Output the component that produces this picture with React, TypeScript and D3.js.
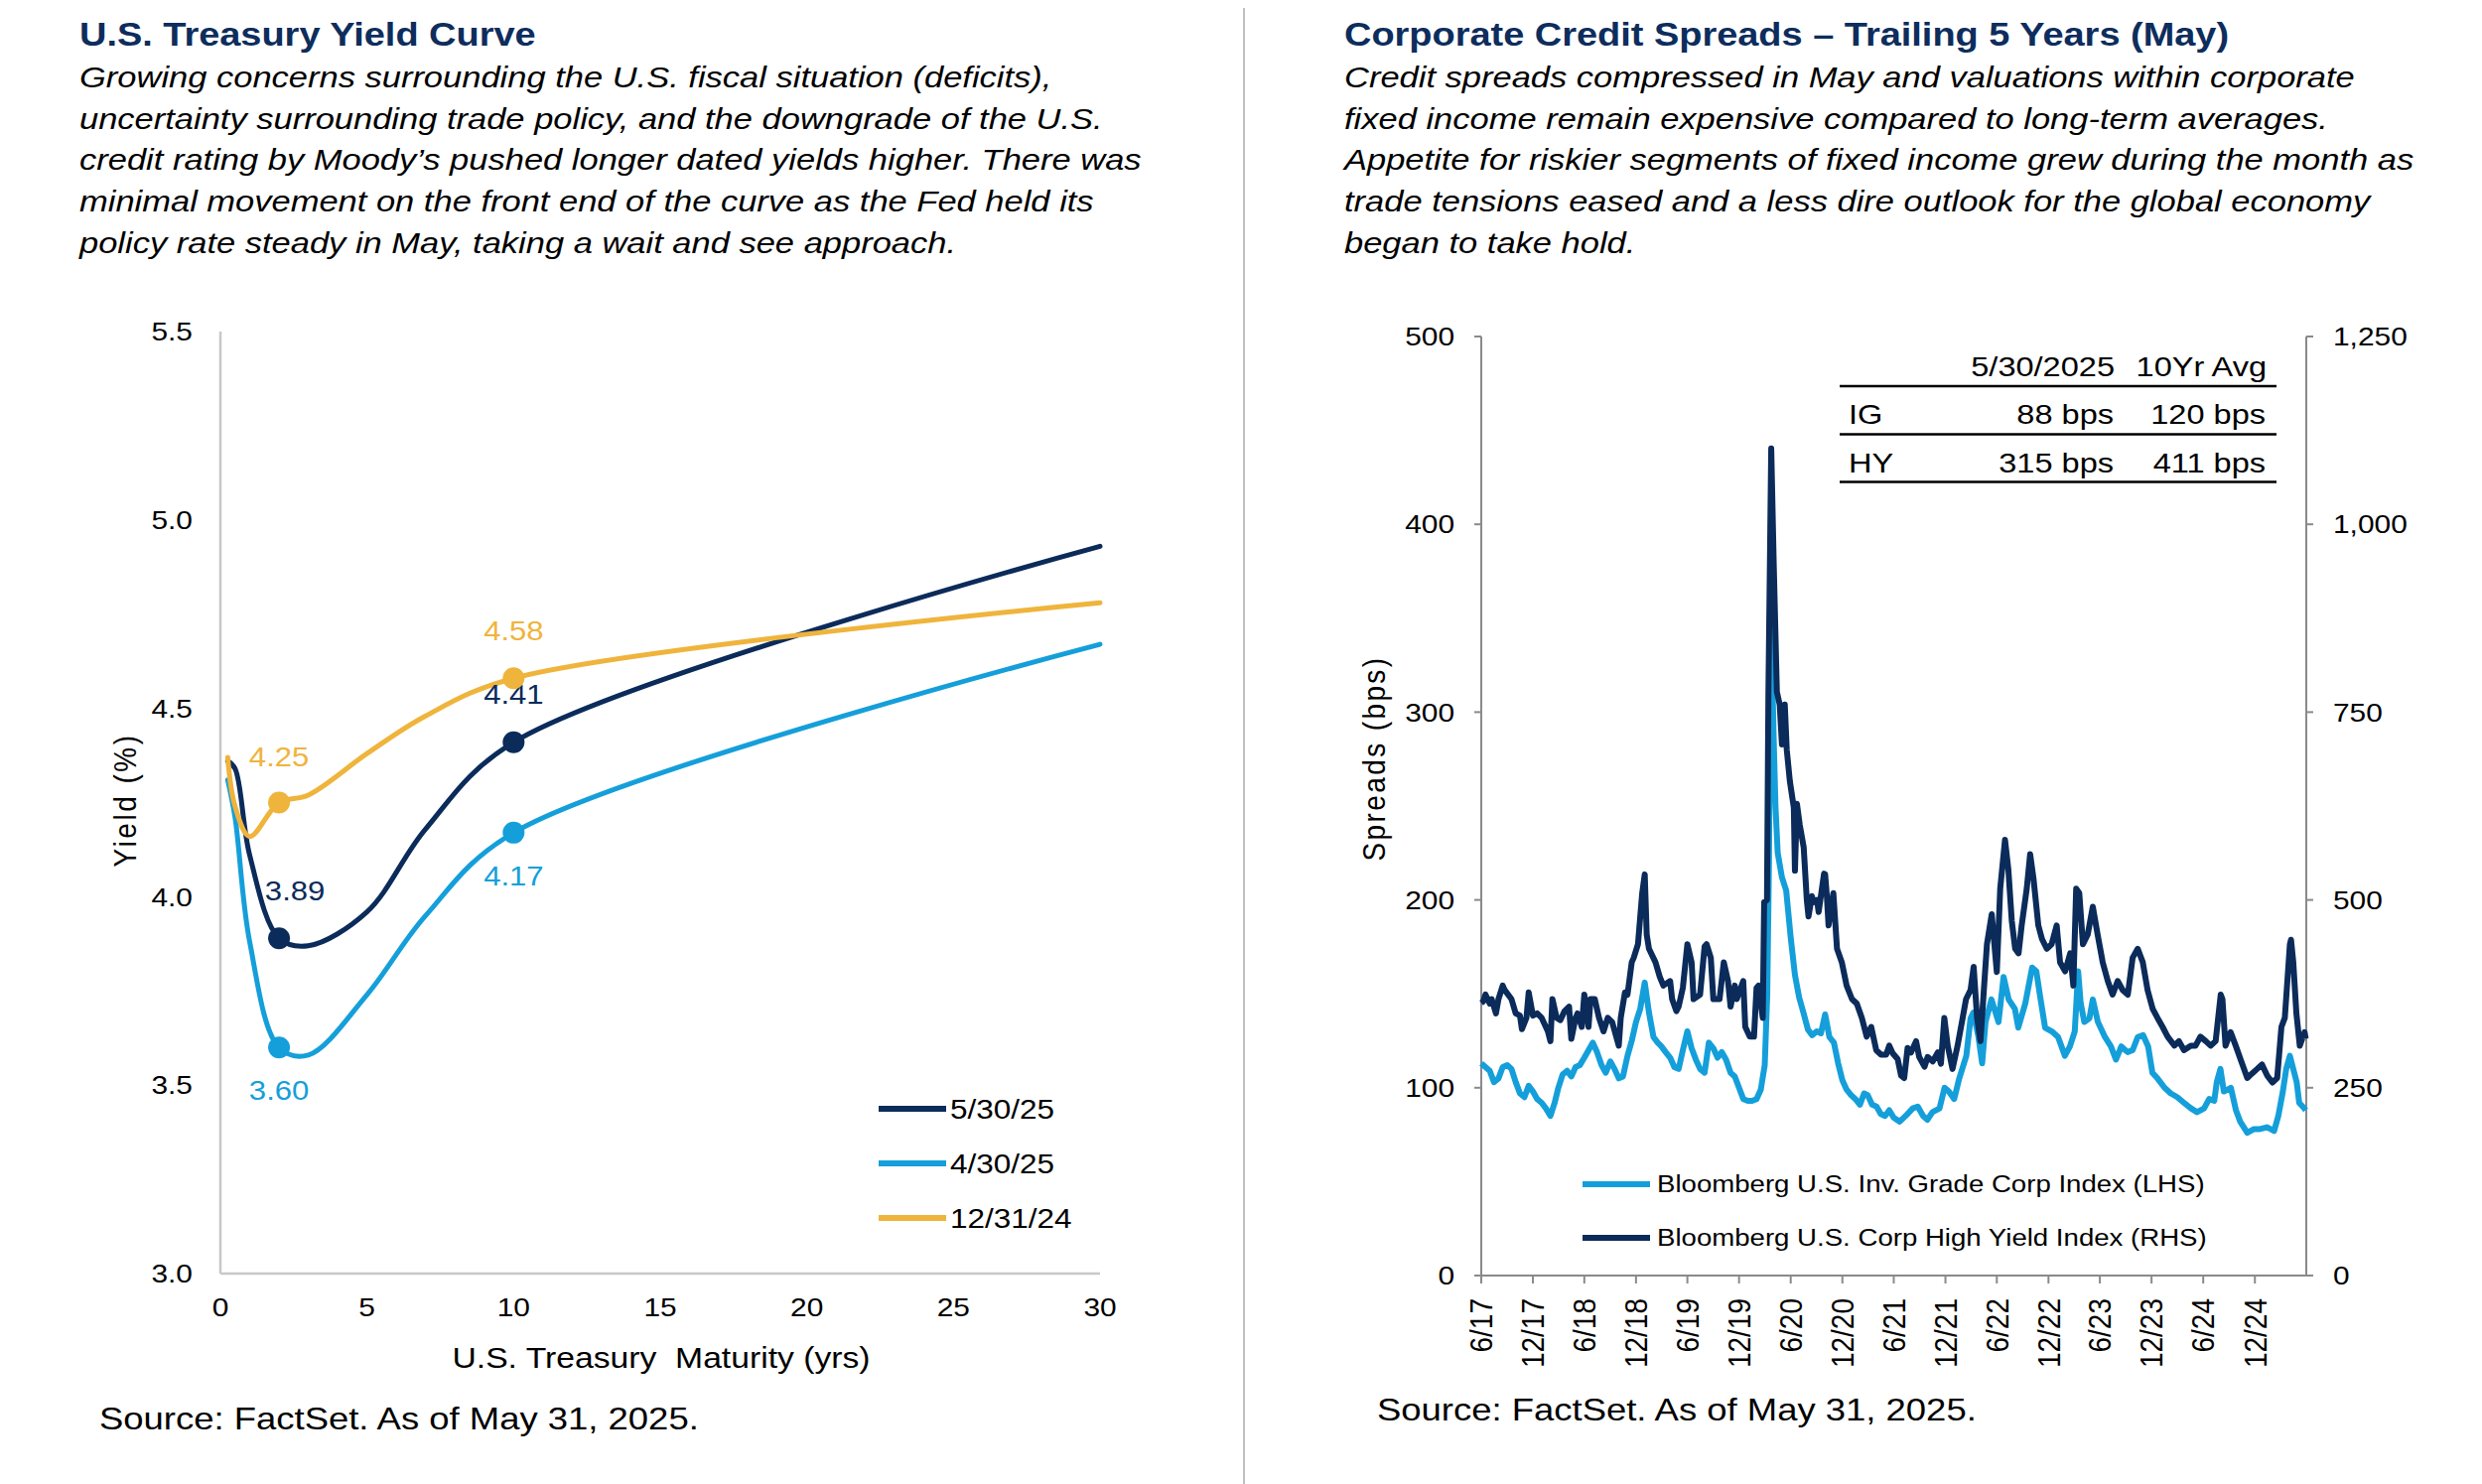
import React from 'react';
import * as d3 from 'd3';

// ---------- Left chart: U.S. Treasury yield curve ----------
const maturities = [0.25, 0.5, 1, 2, 3, 5, 7, 10, 30];
const yieldsMay2025 = [4.36, 4.34, 4.11, 3.89, 3.87, 3.96, 4.18, 4.41, 4.93];
const yieldsApr2025 = [4.31, 4.21, 3.88, 3.6, 3.58, 3.74, 3.95, 4.17, 4.67];
const yieldsDec2024 = [4.37, 4.24, 4.16, 4.25, 4.27, 4.38, 4.48, 4.58, 4.78];
const curveNames = ['5/30/25', '4/30/25', '12/31/24'];
const labeledMaturities = [2, 10];
const yieldTicks = [3.0, 3.5, 4.0, 4.5, 5.0, 5.5];
const maturityTicks = [0, 5, 10, 15, 20, 25, 30];

// ---------- Right chart: corporate credit spreads ----------
const igSpreads: [string, number][] = [
  ['2017-06-01', 113], ['2017-06-16', 111], ['2017-07-01', 109], ['2017-07-16', 103], ['2017-08-01', 105], ['2017-08-16', 111],
  ['2017-09-01', 112], ['2017-09-16', 110], ['2017-10-01', 103], ['2017-10-16', 97], ['2017-11-01', 95], ['2017-11-16', 101],
  ['2017-12-01', 98], ['2017-12-16', 94], ['2018-01-01', 92], ['2018-01-16', 89], ['2018-02-01', 85], ['2018-02-16', 92],
  ['2018-03-01', 100], ['2018-03-16', 107], ['2018-04-01', 109], ['2018-04-16', 106], ['2018-05-01', 111], ['2018-05-16', 112],
  ['2018-06-01', 116], ['2018-06-16', 120], ['2018-07-01', 124], ['2018-07-16', 119], ['2018-08-01', 112], ['2018-08-16', 108],
  ['2018-09-01', 114], ['2018-09-16', 110], ['2018-10-01', 105], ['2018-10-16', 106], ['2018-11-01', 117], ['2018-11-16', 125],
  ['2018-12-01', 135], ['2018-12-16', 142], ['2019-01-01', 156], ['2019-01-16', 140], ['2019-02-01', 127], ['2019-02-16', 124],
  ['2019-03-01', 122], ['2019-03-16', 119], ['2019-04-01', 116], ['2019-04-16', 111], ['2019-05-01', 110], ['2019-05-16', 120],
  ['2019-06-01', 130], ['2019-06-16', 121], ['2019-07-01', 115], ['2019-07-16', 110], ['2019-08-01', 108], ['2019-08-16', 124],
  ['2019-09-01', 121], ['2019-09-16', 116], ['2019-10-01', 119], ['2019-10-16', 115], ['2019-11-01', 108], ['2019-11-16', 106],
  ['2019-12-01', 100], ['2019-12-16', 94], ['2020-01-01', 93], ['2020-01-16', 93], ['2020-02-01', 94], ['2020-02-16', 99],
  ['2020-03-01', 112], ['2020-03-10', 150], ['2020-03-16', 220], ['2020-03-23', 373], ['2020-03-28', 320], ['2020-04-01', 290],
  ['2020-04-08', 250], ['2020-04-16', 225], ['2020-05-01', 212], ['2020-05-16', 205], ['2020-06-01', 180], ['2020-06-16', 160],
  ['2020-07-01', 148], ['2020-07-16', 140], ['2020-08-01', 131], ['2020-08-16', 128], ['2020-09-01', 130], ['2020-09-16', 129],
  ['2020-10-01', 139], ['2020-10-16', 127], ['2020-11-01', 124], ['2020-11-16', 113], ['2020-12-01', 104], ['2020-12-16', 99],
  ['2021-01-01', 96], ['2021-01-16', 94], ['2021-02-01', 91], ['2021-02-16', 97], ['2021-03-01', 96], ['2021-03-16', 91],
  ['2021-04-01', 90], ['2021-04-16', 86], ['2021-05-01', 85], ['2021-05-16', 88], ['2021-06-01', 84], ['2021-06-22', 82],
  ['2021-07-13', 85], ['2021-08-07', 89], ['2021-08-25', 90], ['2021-09-13', 85], ['2021-09-28', 83], ['2021-10-16', 87],
  ['2021-11-10', 89], ['2021-11-28', 100], ['2021-12-13', 98], ['2022-01-01', 94], ['2022-01-19', 105], ['2022-02-13', 117],
  ['2022-02-28', 137], ['2022-03-10', 140], ['2022-03-28', 127], ['2022-04-10', 113], ['2022-04-22', 135], ['2022-05-13', 147],
  ['2022-06-07', 135], ['2022-06-25', 159], ['2022-07-13', 147], ['2022-08-04', 142], ['2022-08-16', 132], ['2022-09-10', 145],
  ['2022-10-04', 164], ['2022-10-19', 162], ['2022-11-01', 149], ['2022-11-19', 132], ['2022-12-13', 130], ['2023-01-04', 127],
  ['2023-01-28', 117], ['2023-02-15', 122], ['2023-03-04', 130], ['2023-03-16', 162], ['2023-03-25', 145], ['2023-04-07', 135],
  ['2023-04-25', 137], ['2023-05-07', 147], ['2023-05-25', 135], ['2023-06-19', 127], ['2023-07-10', 122], ['2023-07-28', 115],
  ['2023-08-16', 122], ['2023-09-07', 119], ['2023-09-25', 120], ['2023-10-13', 127], ['2023-11-01', 128], ['2023-11-19', 122],
  ['2023-12-04', 108], ['2023-12-22', 105], ['2024-01-16', 100], ['2024-02-07', 97], ['2024-03-01', 95], ['2024-03-25', 92],
  ['2024-04-19', 89], ['2024-05-10', 87], ['2024-06-04', 89], ['2024-06-22', 94], ['2024-07-10', 93], ['2024-07-19', 103],
  ['2024-08-01', 110], ['2024-08-13', 98], ['2024-09-07', 100], ['2024-09-25', 88], ['2024-10-10', 82], ['2024-11-04', 76],
  ['2024-11-28', 78], ['2024-12-19', 78], ['2025-01-13', 79], ['2025-02-07', 77], ['2025-02-22', 85], ['2025-03-10', 98],
  ['2025-03-22', 110], ['2025-04-04', 117], ['2025-04-16', 110], ['2025-04-28', 103], ['2025-05-07', 92], ['2025-05-25', 89],
  ['2025-05-30', 88],
];

const hySpreads: [string, number][] = [
  ['2017-06-01', 363], ['2017-06-08', 365], ['2017-06-16', 374], ['2017-07-01', 362], ['2017-07-08', 368], ['2017-07-23', 349],
  ['2017-08-01', 368], ['2017-08-16', 386], ['2017-08-23', 380], ['2017-09-16', 368], ['2017-10-01', 349], ['2017-10-16', 346],
  ['2017-10-23', 328], ['2017-11-08', 343], ['2017-11-16', 377], ['2017-12-01', 346], ['2017-12-16', 349], ['2018-01-01', 343],
  ['2018-01-23', 325], ['2018-02-01', 312], ['2018-02-08', 368], ['2018-02-23', 343], ['2018-03-08', 340], ['2018-03-23', 352],
  ['2018-04-08', 358], ['2018-04-16', 315], ['2018-05-01', 343], ['2018-05-08', 349], ['2018-05-23', 331], ['2018-06-01', 374],
  ['2018-06-16', 331], ['2018-06-23', 368], ['2018-07-08', 368], ['2018-07-23', 343], ['2018-08-08', 325], ['2018-08-23', 343],
  ['2018-09-08', 337], ['2018-10-01', 306], ['2018-10-08', 343], ['2018-10-23', 377], ['2018-11-01', 374], ['2018-11-16', 417],
  ['2018-11-23', 423], ['2018-12-08', 441], ['2018-12-23', 509], ['2019-01-01', 534], ['2019-01-08', 454], ['2019-01-16', 435],
  ['2019-02-08', 417], ['2019-02-23', 398], ['2019-03-08', 386], ['2019-04-01', 392], ['2019-04-08', 368], ['2019-04-23', 352],
  ['2019-05-01', 358], ['2019-05-16', 383], ['2019-06-01', 441], ['2019-06-16', 417], ['2019-06-23', 368], ['2019-07-16', 374],
  ['2019-08-01', 438], ['2019-08-08', 441], ['2019-08-23', 423], ['2019-09-01', 368], ['2019-09-23', 368], ['2019-10-08', 417],
  ['2019-10-23', 392], ['2019-11-01', 358], ['2019-11-16', 386], ['2019-11-23', 368], ['2019-12-16', 392], ['2019-12-23', 331],
  ['2020-01-08', 318], ['2020-01-23', 318], ['2020-02-01', 383], ['2020-02-08', 386], ['2020-02-23', 343], ['2020-02-28', 497],
  ['2020-03-09', 500], ['2020-03-14', 773], ['2020-03-24', 1101], ['2020-04-02', 945], ['2020-04-13', 777], ['2020-04-23', 760],
  ['2020-05-01', 707], ['2020-05-11', 760], ['2020-05-18', 700], ['2020-05-29', 658], ['2020-06-12', 623], ['2020-06-16', 539],
  ['2020-06-23', 628], ['2020-07-03', 600], ['2020-07-17', 570], ['2020-07-28', 500], ['2020-08-03', 478], ['2020-08-15', 505],
  ['2020-08-21', 497], ['2020-09-02', 500], ['2020-09-08', 484], ['2020-09-27', 535], ['2020-10-01', 534], ['2020-10-07', 505],
  ['2020-10-13', 466], ['2020-10-30', 509], ['2020-11-12', 435], ['2020-11-29', 417], ['2020-12-16', 386], ['2021-01-04', 368],
  ['2021-01-21', 362], ['2021-02-08', 343], ['2021-02-25', 318], ['2021-03-13', 331], ['2021-03-31', 300], ['2021-04-17', 294],
  ['2021-05-05', 294], ['2021-05-16', 306], ['2021-05-28', 296], ['2021-06-15', 288], ['2021-06-27', 266], ['2021-07-08', 263],
  ['2021-07-20', 303], ['2021-08-01', 297], ['2021-08-19', 312], ['2021-08-30', 291], ['2021-09-18', 278], ['2021-09-29', 291],
  ['2021-10-17', 285], ['2021-11-04', 297], ['2021-11-15', 282], ['2021-11-27', 343], ['2021-12-09', 306], ['2021-12-26', 275],
  ['2022-01-13', 306], ['2022-01-31', 343], ['2022-02-12', 368], ['2022-02-28', 380], ['2022-03-11', 411], ['2022-03-23', 343],
  ['2022-04-04', 312], ['2022-04-15', 374], ['2022-04-27', 441], ['2022-05-14', 481], ['2022-06-01', 404], ['2022-06-13', 515],
  ['2022-06-30', 580], ['2022-07-12', 540], ['2022-07-24', 472], ['2022-08-05', 435], ['2022-08-17', 429], ['2022-08-28', 466],
  ['2022-09-15', 515], ['2022-09-27', 561], ['2022-10-09', 528], ['2022-10-26', 466], ['2022-11-08', 448], ['2022-11-25', 435],
  ['2022-12-12', 441], ['2022-12-30', 466], ['2023-01-11', 417], ['2023-01-29', 405], ['2023-02-16', 429], ['2023-02-27', 386],
  ['2023-03-09', 515], ['2023-03-20', 509], ['2023-04-02', 441], ['2023-04-19', 454], ['2023-05-07', 491], ['2023-05-24', 454],
  ['2023-06-11', 417], ['2023-06-29', 392], ['2023-07-16', 374], ['2023-08-03', 392], ['2023-08-21', 380], ['2023-09-08', 374],
  ['2023-09-25', 423], ['2023-10-13', 435], ['2023-10-31', 417], ['2023-11-17', 380], ['2023-12-05', 355], ['2023-12-22', 343],
  ['2024-01-09', 331], ['2024-01-27', 318], ['2024-02-20', 306], ['2024-03-07', 312], ['2024-03-25', 300], ['2024-04-18', 306],
  ['2024-05-05', 306], ['2024-05-22', 318], ['2024-06-10', 312], ['2024-06-27', 306], ['2024-07-15', 312], ['2024-08-02', 374],
  ['2024-08-08', 368], ['2024-08-19', 306], ['2024-09-06', 324], ['2024-09-24', 306], ['2024-10-11', 288], ['2024-11-04', 263],
  ['2024-11-21', 269], ['2024-12-09', 275], ['2024-12-26', 281], ['2025-01-14', 266], ['2025-02-01', 257], ['2025-02-18', 263],
  ['2025-03-05', 331], ['2025-03-17', 343], ['2025-04-04', 441], ['2025-04-08', 447], ['2025-04-16', 417], ['2025-04-27', 349],
  ['2025-05-09', 306], ['2025-05-26', 324], ['2025-05-30', 315],
];

const spreadTicksLeft = [0, 100, 200, 300, 400, 500];
const spreadTicksRight = [0, 250, 500, 750, 1000, 1250];
const dateTicks = [
  '2017-06-01', '2017-12-01', '2018-06-01', '2018-12-01', '2019-06-01', '2019-12-01', '2020-06-01', '2020-12-01',
  '2021-06-01', '2021-12-01', '2022-06-01', '2022-12-01', '2023-06-01', '2023-12-01', '2024-06-01', '2024-12-01',
];
const dateDomain = ['2017-06-01', '2025-06-01'];
const tableHeader = ['', '5/30/2025', '10Yr Avg'];
const tableRows = [
  ['IG', '88 bps', '120 bps'],
  ['HY', '315 bps', '411 bps'],
];
const spreadNames = ['Bloomberg U.S. Inv. Grade Corp Index (LHS)', 'Bloomberg U.S. Corp High Yield Index (RHS)'];

// ---------- Texts ----------
const leftTitle = 'U.S. Treasury Yield Curve';
const leftText = [
  'Growing concerns surrounding the U.S. fiscal situation (deficits),',
  'uncertainty surrounding trade policy, and the downgrade of the U.S.',
  'credit rating by Moody\u2019s pushed longer dated yields higher. There was',
  'minimal movement on the front end of the curve as the Fed held its',
  'policy rate steady in May, taking a wait and see approach.',
];
const rightTitle = 'Corporate Credit Spreads \u2013 Trailing 5 Years (May)';
const rightText = [
  'Credit spreads compressed in May and valuations within corporate',
  'fixed income remain expensive compared to long-term averages.',
  'Appetite for riskier segments of fixed income grew during the month as',
  'trade tensions eased and a less dire outlook for the global economy',
  'began to take hold.',
];
const sourceText = 'Source: FactSet. As of May 31, 2025.';

// ---------- Styling ----------
const SX = 1.15;
const FONT = '"Liberation Sans", Arial, Helvetica, sans-serif';
const NAVY = '#0b2b5a';
const LBLUE = '#159fda';
const GOLD = '#efb43c';
const TITLE_C = '#0d2d5d';

type TxtProps = {
  x: number; y: number; size: number; anchor?: string; fill?: string; weight?: string;
  italic?: boolean; rotate?: number; ls?: number; dy?: string; pre?: boolean; children: React.ReactNode;
};
function Txt({ x, y, size, anchor = 'start', fill = '#000', weight = 'normal', italic = false, rotate = 0, ls = 0, dy, pre, children }: TxtProps) {
  return (
    <g transform={`translate(${x},${y}) scale(${SX},1)${rotate ? ` rotate(${rotate})` : ''}`}>
      <text
        fontFamily={FONT}
        fontSize={size}
        textAnchor={anchor as any}
        fill={fill}
        fontWeight={weight}
        fontStyle={italic ? 'italic' : 'normal'}
        letterSpacing={ls}
        dy={dy}
        style={pre ? { whiteSpace: 'pre' } : undefined}
      >
        {children}
      </text>
    </g>
  );
}

function YieldCurveChart() {
  const x = d3.scaleLinear().domain([0, 30]).range([222, 1108]);
  const y = d3.scaleLinear().domain([3, 5.5]).range([1283, 334]);
  const line = d3
    .line<[number, number]>()
    .x((d) => x(d[0]))
    .y((d) => y(d[1]))
    .curve(d3.curveCatmullRom.alpha(0.5));
  const series = [
    { name: curveNames[0], values: yieldsMay2025, color: NAVY, labelDy: [-48, -48], labelDx: [16, 0] },
    { name: curveNames[1], values: yieldsApr2025, color: LBLUE, labelDy: [43, 44], labelDx: [0, 0] },
    { name: curveNames[2], values: yieldsDec2024, color: GOLD, labelDy: [-46, -48], labelDx: [0, 0] },
  ];
  const axisColor = '#c8c8c8';
  return (
    <g>
      <line x1={x(0)} x2={x(0)} y1={y(5.5)} y2={y(3)} stroke={axisColor} strokeWidth={2.5} />
      <line x1={x(0)} x2={x(30)} y1={y(3)} y2={y(3)} stroke={axisColor} strokeWidth={2.5} />
      {yieldTicks.map((t) => (
        <Txt key={t} x={194} y={y(t)} size={26} anchor="end" dy="0.35em">
          {t.toFixed(1)}
        </Txt>
      ))}
      {maturityTicks.map((t) => (
        <Txt key={t} x={x(t)} y={1317} size={26} anchor="middle" dy="0.35em">
          {t}
        </Txt>
      ))}
      <Txt x={666} y={1378} size={29.3} anchor="middle" pre>
        {'U.S. Treasury  Maturity (yrs)'}
      </Txt>
      <Txt x={126} y={806} size={28} anchor="middle" rotate={-90} ls={2.5} dy="0.35em">
        Yield (%)
      </Txt>
      {series.map((s) => (
        <path
          key={s.name}
          d={line(maturities.map((m, i) => [m, s.values[i]]) as [number, number][]) || ''}
          fill="none"
          stroke={s.color}
          strokeWidth={5}
          strokeLinejoin="round"
          strokeLinecap="round"
        />
      ))}
      {series.map((s) =>
        labeledMaturities.map((m, j) => {
          const i = maturities.indexOf(m);
          const v = s.values[i];
          return (
            <g key={s.name + m}>
              <circle cx={x(m)} cy={y(v)} r={11} fill={s.color} />
              <Txt x={x(m) + s.labelDx[j]} y={y(v) + s.labelDy[j]} size={27} anchor="middle" fill={s.color} dy="0.35em">
                {v.toFixed(2)}
              </Txt>
            </g>
          );
        })
      )}
      {series.map((s, i) => (
        <g key={'leg' + s.name}>
          <line x1={885} x2={953} y1={1117 + i * 55} y2={1117 + i * 55} stroke={s.color} strokeWidth={6} />
          <Txt x={957} y={1117 + i * 55} size={27.4} dy="0.35em">
            {s.name}
          </Txt>
        </g>
      ))}
    </g>
  );
}

function SpreadsChart() {
  const parse = d3.timeParse('%Y-%m-%d');
  const x = d3
    .scaleTime()
    .domain(dateDomain.map((d) => parse(d) as Date))
    .range([1492, 2323]);
  const yL = d3.scaleLinear().domain([0, 500]).range([1285, 339]);
  const yR = d3.scaleLinear().domain([0, 1250]).range([1285, 339]);
  const fmt = d3.timeFormat('%-m/%y');
  const igLine = d3
    .line<[string, number]>()
    .x((d) => x(parse(d[0]) as Date))
    .y((d) => yL(d[1]));
  const hyLine = d3
    .line<[string, number]>()
    .x((d) => x(parse(d[0]) as Date))
    .y((d) => yR(d[1]));
  const axisColor = '#8a8a8a';
  const x0 = x.range()[0];
  const x1 = x.range()[1];
  const colX = [1862, 2130, 2283];
  return (
    <g>
      {/* axes */}
      <line x1={x0} x2={x0} y1={yL(500)} y2={yL(0)} stroke={axisColor} strokeWidth={2} />
      <line x1={x1} x2={x1} y1={yR(1250)} y2={yR(0)} stroke={axisColor} strokeWidth={2} />
      <line x1={x0} x2={x1} y1={yL(0)} y2={yL(0)} stroke={axisColor} strokeWidth={2} />
      {spreadTicksLeft.map((t) => (
        <g key={'l' + t}>
          <line x1={x0 - 7} x2={x0} y1={yL(t)} y2={yL(t)} stroke={axisColor} strokeWidth={2} />
          <Txt x={1465} y={yL(t)} size={26} anchor="end" dy="0.35em">
            {t}
          </Txt>
        </g>
      ))}
      {spreadTicksRight.map((t) => (
        <g key={'r' + t}>
          <line x1={x1} x2={x1 + 7} y1={yR(t)} y2={yR(t)} stroke={axisColor} strokeWidth={2} />
          <Txt x={2350} y={yR(t)} size={26} dy="0.35em">
            {d3.format(',')(t)}
          </Txt>
        </g>
      ))}
      {dateTicks.map((d) => {
        const xx = x(parse(d) as Date);
        return (
          <g key={d}>
            <line x1={xx} x2={xx} y1={yL(0)} y2={yL(0) + 8} stroke={axisColor} strokeWidth={2} />
            <Txt x={xx} y={1308} size={28} anchor="end" rotate={-90} dy="0.35em">
              {fmt(parse(d) as Date)}
            </Txt>
          </g>
        );
      })}
      <Txt x={1384} y={764} size={28} anchor="middle" rotate={-90} ls={2.4} dy="0.35em">
        Spreads (bps)
      </Txt>
      {/* series */}
      <path d={igLine(igSpreads) || ''} fill="none" stroke={LBLUE} strokeWidth={6} strokeLinejoin="round" />
      <path d={hyLine(hySpreads) || ''} fill="none" stroke={NAVY} strokeWidth={6} strokeLinejoin="round" />
      {/* table */}
      {[389, 437.5, 485.5].map((yy) => (
        <line key={yy} x1={1853} x2={2293} y1={yy} y2={yy} stroke="#000" strokeWidth={2.6} />
      ))}
      {tableHeader.map((h, i) =>
        h ? (
          <Txt key={'h' + i} x={colX[i]} y={379} size={28.3} anchor="end">
            {h}
          </Txt>
        ) : null
      )}
      {tableRows.map((r, ri) =>
        r.map((c, ci) => (
          <Txt key={ri + '-' + ci} x={ci === 0 ? colX[0] : colX[ci] - 1} y={427 + ri * 49} size={28.3} anchor={ci === 0 ? 'start' : 'end'}>
            {c}
          </Txt>
        ))
      )}
      {/* legend */}
      {spreadNames.map((n, i) => (
        <g key={n}>
          <line x1={1594} x2={1662} y1={1193 + i * 54} y2={1193 + i * 54} stroke={i === 0 ? LBLUE : NAVY} strokeWidth={6} />
          <Txt x={1669} y={1193 + i * 54} size={24} dy="0.35em">
            {n}
          </Txt>
        </g>
      ))}
    </g>
  );
}

export default function App() {
  return (
    <svg
      width={2500}
      height={1495}
      viewBox="0 0 2500 1495"
      style={{ position: 'absolute', left: 0, top: 0, background: '#fff' }}
    >
      <rect x={0} y={0} width={2500} height={1495} fill="#fff" />
      <line x1={1253} x2={1253} y1={8} y2={1495} stroke="#c0c0c0" strokeWidth={2} />
      <Txt x={80} y={46} size={33} weight="bold" fill={TITLE_C}>
        {leftTitle}
      </Txt>
      {leftText.map((t, i) => (
        <Txt key={i} x={80} y={88 + i * 41.7} size={30} italic>
          {t}
        </Txt>
      ))}
      <Txt x={1354} y={46} size={33} weight="bold" fill={TITLE_C}>
        {rightTitle}
      </Txt>
      {rightText.map((t, i) => (
        <Txt key={i} x={1354} y={88 + i * 41.7} size={30} italic>
          {t}
        </Txt>
      ))}
      <YieldCurveChart />
      <SpreadsChart />
      <Txt x={100} y={1440} size={31.7}>
        {sourceText}
      </Txt>
      <Txt x={1387} y={1431} size={31.7}>
        {sourceText}
      </Txt>
    </svg>
  );
}
